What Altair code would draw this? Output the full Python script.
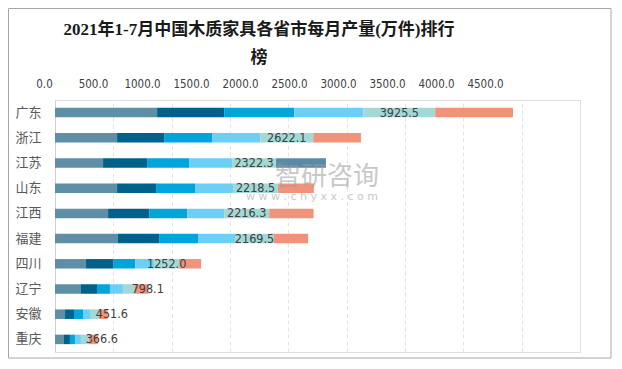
import altair as alt
import pandas as pd

# ---------------- data ----------------
title_lines = ["2021年1-7月中国木质家具各省市每月产量(万件)排行", "榜"]
provinces = ["广东", "浙江", "江苏", "山东", "江西", "福建", "四川", "辽宁", "安徽", "重庆"]
totals = [3925.5, 2622.1, 2322.3, 2218.5, 2216.3, 2169.5, 1252.0, 798.1, 451.6, 366.6]
series_names = ["1-2月", "3月", "4月", "5月", "6月", "7月", "7月(江苏)"]
m12 = [875, 532, 412, 532, 455, 540, 266, 223, 86, 77]
m3 = [575, 403, 377, 334, 352, 352, 232, 137, 77, 51]
m4 = [600, 412, 360, 334, 326, 334, 189, 111, 77, 43]
m5 = [594, 412, 369, 326, 317, 317, 163, 111, 60, 51]
m6 = [615, 455, 377, 386, 386, 334, 214, 103, 77, 69]
m7 = [666.5, 408.1, 0, 306.5, 380.3, 292.5, 188, 113.1, 74.6, 75.6]
m7b = [0, 0, 427.3, 0, 0, 0, 0, 0, 0, 0]
tick_values = [0, 500, 1000, 1500, 2000, 2500, 3000, 3500, 4000, 4500]
colors = ["#5e8fa7", "#00618a", "#00a5dc", "#6ccff6", "#a2d9d6", "#f1937b", "#5a8ba6"]
watermark = ["智研咨询", "w w w . c h y x x . c o m"]

# ---------------- tables ----------------
all_series = [m12, m3, m4, m5, m6, m7, m7b]
rows = []
for i, p in enumerate(provinces):
    for j, (name, vals) in enumerate(zip(series_names, all_series)):
        rows.append({"省份": p, "系列": name, "产量": vals[i], "序": j})
df = pd.DataFrame(rows)

lab_rows = []
half_label = 110  # half of a label's width, in data units
for i, p in enumerate(provinces):
    cum5 = sum(s[i] for s in all_series[:4])
    mid6 = cum5 + m6[i] / 2
    start7 = cum5 + m6[i]
    x = mid6 if totals[i] >= 1000 else start7 + half_label
    lab_rows.append({"省份": p, "合计": totals[i], "pos": x})
lab_df = pd.DataFrame(lab_rows)
tick_df = pd.DataFrame({"v": tick_values})
one = pd.DataFrame({"a": [0]})

NUM_FONT = "'Liberation Sans Narrow', 'DejaVu Sans Condensed', sans-serif"
CJK_FONT = "'Noto Sans CJK SC', sans-serif"

y_enc = alt.Y(
    "省份:N", sort=provinces, title=None,
    axis=alt.Axis(ticks=False, domainColor="#d0d0d0", labelFont=CJK_FONT,
                  labelFontSize=13, labelColor="#595959", labelPadding=14),
)
x_scale = alt.Scale(domain=[0, 4500], nice=False, zero=True)

bars = alt.Chart(df).mark_bar(size=9.5).encode(
    y=y_enc,
    x=alt.X("产量:Q", stack="zero", scale=x_scale, title=None,
            axis=alt.Axis(orient="bottom", labels=False, ticks=False, domain=False,
                          grid=True, gridDash=[4, 3], gridColor="#e3e3e3",
                          values=tick_values)),
    color=alt.Color("系列:N", scale=alt.Scale(domain=series_names, range=colors), legend=None),
    order=alt.Order("序:Q", sort="ascending"),
)

labels = alt.Chart(lab_df).mark_text(
    align="center", baseline="middle", font=NUM_FONT, fontSize=12.5, color="#404040"
).encode(
    y=alt.Y("省份:N", sort=provinces),
    x=alt.X("pos:Q", scale=x_scale),
    text=alt.Text("合计:Q", format=".1f"),
)

border = alt.Chart(one).mark_rect(fill="transparent", stroke="#a6a6a6", strokeWidth=1).encode(
    x=alt.value(-46.5), x2=alt.value(556), y=alt.value(-91.5), y2=alt.value(258)
)

wm1 = alt.Chart(one).mark_text(
    text=watermark[0], font=CJK_FONT, fontSize=26, color="#9c9c9c", opacity=0.55,
    align="center", baseline="middle"
).encode(x=alt.value(272), y=alt.value(77))

wm2 = alt.Chart(one).mark_text(
    text=watermark[1], font="'DejaVu Sans', sans-serif", fontSize=11, color="#9c9c9c",
    opacity=0.55, align="center", baseline="middle"
).encode(x=alt.value(257), y=alt.value(97))

inner = alt.layer(border, bars, wm1, wm2, labels)

top_axis = alt.Chart(tick_df).mark_point(opacity=0).encode(
    x=alt.X("v:Q", title=None,
            scale=alt.Scale(domain=[0, 4500], range=[-11, 430], nice=False),
            axis=alt.Axis(orient="top", values=tick_values, format=".1f", grid=False,
                          ticks=False, tickSize=0, domain=False, labelFlush=False,
                          labelOverlap=False, labelFont=NUM_FONT, labelFontSize=11.5,
                          labelColor="#404040", labelPadding=11)),
)

chart = alt.layer(inner, top_axis).resolve_scale(x="independent").properties(
    width=525,
    height=252,
    title=alt.TitleParams(
        text=title_lines, font="'Liberation Serif', 'Noto Sans CJK SC', serif",
        fontSize=17, fontWeight="bold", color="#1a1a1a", anchor="middle",
        dx=-58.5, dy=71, offset=12, lineHeight=28,
    ),
    autosize=alt.AutoSizeParams(type="none"),
    padding={"left": 47, "top": 92, "right": 34, "bottom": 7},
).configure_view(stroke=None).configure(background="white")

chart.save("out.html", embed_options={"renderer": "svg", "actions": False})
